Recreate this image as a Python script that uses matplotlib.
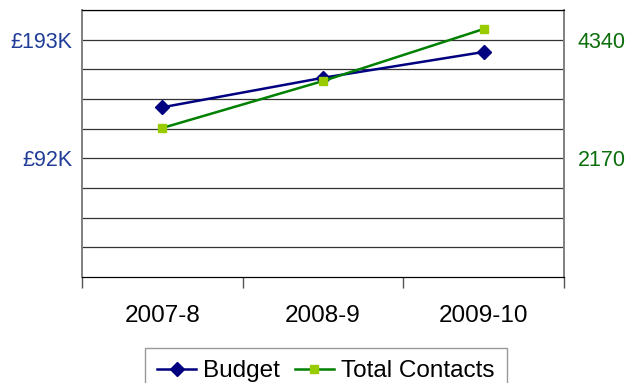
import numpy as np
import matplotlib
matplotlib.use("Agg")
from matplotlib import pyplot as plt

plt.rcParams['font.family'] = ['Liberation Sans', 'DejaVu Sans']

# --- data ---
years = ['2007-8', '2008-9', '2009-10']
budget_k = [138, 162, 183]          # £K, left axis
contacts = [2725, 3584, 4535]       # right axis

left_step = 193 / 8                 # one gridline on the budget axis
right_step = 4340 / 8               # one gridline on the contacts axis
left_ticks = [4 * left_step, 8 * left_step]
left_labels = ['£92K', '£193K']
right_ticks = [2170, 4340]
right_labels = ['2170', '4340']

fig = plt.figure(figsize=(6.31, 3.83), dpi=100)
ax = fig.add_axes([82 / 631, 1 - 277 / 383, (564 - 82) / 631, (277 - 10) / 383])
ax2 = ax.twinx()

x = np.arange(len(years))
l1, = ax.plot(x, budget_k, color='#000080', lw=1.8, marker='D', ms=7.5,
              mfc='#000080', mec='#000080', zorder=3, label='Budget')
l2, = ax2.plot(x, contacts, color='#008000', lw=1.8, marker='s', ms=5.5,
               mfc='#99CC00', mec='#99CC00', zorder=3, label='Total Contacts')

ax.set_xlim(-0.5, 2.5)
ax.set_ylim(0, 9 * left_step)
ax2.set_ylim(0, 9 * right_step)

# gridlines
for k in range(1, 10):
    ax.axhline(k * left_step, color='#333333', lw=0.9, zorder=1)

ax.set_yticks(left_ticks)
ax.set_yticklabels(left_labels, color='#1F3C99', fontsize=15.5)
ax.tick_params(axis='y', length=0, pad=7)
ax2.set_yticks(right_ticks)
ax2.set_yticklabels(right_labels, color='#0A6E0A', fontsize=15.5)
ax2.tick_params(axis='y', length=0, pad=10)

ax.set_xticks(x)
ax.set_xticklabels(years, fontsize=17.5)
ax.tick_params(axis='x', length=0, pad=20)
ax.set_xticks([-0.5, 0.5, 1.5, 2.5], minor=True)
ax.tick_params(axis='x', which='minor', length=8, width=1, color='#555555')

for a in (ax, ax2):
    a.spines['left'].set_color('#808080')
    a.spines['right'].set_color('#808080')
    a.spines['top'].set_color('#000000')
    a.spines['bottom'].set_color('#000000')
    a.spines['left'].set_linewidth(1.2)
    a.spines['right'].set_linewidth(1.2)

leg = fig.legend(handles=[l1, l2], loc='upper left',
                 bbox_to_anchor=(145 / 631, 1 - 348 / 383), ncol=2,
                 fontsize=17.5, frameon=True, fancybox=False, handlelength=1.6,
                 handletextpad=0.3, columnspacing=0.6, borderpad=0.5,
                 borderaxespad=0)
leg.get_frame().set_edgecolor('#808080')
leg.get_frame().set_linewidth(1)

plt.savefig('out.png', dpi=100)
